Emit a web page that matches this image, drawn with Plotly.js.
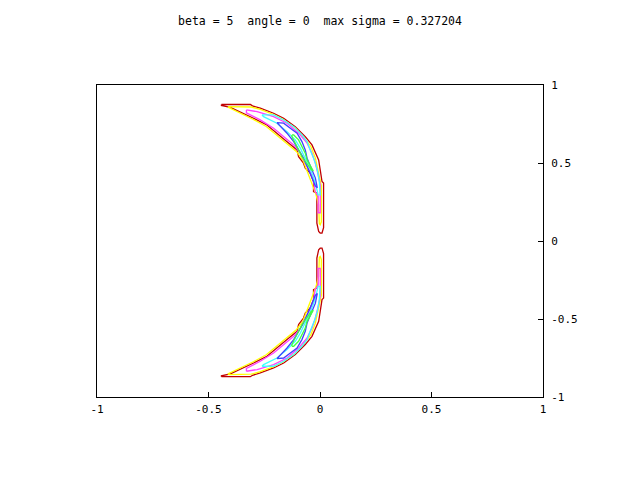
<!DOCTYPE html>
<html>
<head>
<meta charset="utf-8">
<script src="https://cdn.plot.ly/plotly-3.0.1.min.js"></script>
<style>html,body{margin:0;padding:0;background:#fff;}#chart{width:640px;height:480px;}</style>
</head>
<body>
<div id="chart"></div>
<script>
// Contour levels (outermost to innermost)
const levelColors = ['#c00000', '#ffff00', '#ff40ff', '#40ffff', '#4040ff', '#40ff40'];

// Upper crescent contour loops
const redUpperX = [-0.442,-0.312,-0.303,-0.268,-0.208,-0.163,-0.111,-0.066,-0.036,-0.014,-0.006,0.001,0.009,0.016,0.016,0.009,0.001,-0.006,-0.014,-0.014,-0.029,-0.029,-0.036,-0.044,-0.066,-0.074,-0.096,-0.103,-0.148,-0.193,-0.238,-0.298,-0.357,-0.402,-0.442,-0.442];
const redUpperY = [0.875,0.875,0.866,0.851,0.819,0.787,0.733,0.669,0.616,0.541,0.520,0.456,0.381,0.371,0.085,0.051,0.051,0.061,0.115,0.307,0.317,0.381,0.413,0.435,0.467,0.499,0.541,0.584,0.637,0.691,0.744,0.787,0.829,0.856,0.869,0.875];

const yellowUpperX = [-0.411,-0.308,-0.268,-0.209,-0.165,-0.111,-0.071,-0.041,-0.021,-0.012,-0.001,0.006,0.006,0.001,-0.003,-0.006,-0.019,-0.035,-0.048,-0.077,-0.106,-0.151,-0.196,-0.241,-0.299,-0.357,-0.411,-0.411];
const yellowUpperY = [0.862,0.859,0.843,0.811,0.779,0.725,0.661,0.606,0.533,0.469,0.392,0.353,0.123,0.104,0.110,0.232,0.302,0.360,0.417,0.520,0.574,0.629,0.683,0.734,0.779,0.821,0.856,0.862];

const magentaUpperX = [-0.330,-0.282,-0.208,-0.148,-0.096,-0.058,-0.036,-0.021,-0.008,0.001,0.001,-0.008,-0.008,-0.021,-0.030,-0.044,-0.066,-0.088,-0.118,-0.163,-0.208,-0.268,-0.330,-0.330];
const magentaUpperY = [0.840,0.829,0.797,0.755,0.691,0.627,0.563,0.501,0.424,0.360,0.181,0.181,0.289,0.315,0.392,0.443,0.501,0.563,0.616,0.669,0.723,0.776,0.821,0.840];

const cyanUpperX = [-0.260,-0.208,-0.163,-0.118,-0.081,-0.058,-0.044,-0.026,-0.012,-0.003,0.001,-0.008,-0.017,-0.030,-0.048,-0.066,-0.088,-0.111,-0.148,-0.193,-0.253,-0.260];
const cyanUpperY = [0.808,0.808,0.776,0.733,0.680,0.637,0.584,0.520,0.456,0.379,0.296,0.296,0.347,0.411,0.475,0.533,0.595,0.648,0.701,0.755,0.797,0.808];

const blueUpperX = [-0.193,-0.163,-0.133,-0.103,-0.081,-0.066,-0.058,-0.039,-0.021,-0.012,-0.021,-0.039,-0.057,-0.074,-0.096,-0.118,-0.148,-0.186,-0.193];
const blueUpperY = [0.759,0.755,0.723,0.691,0.637,0.584,0.531,0.469,0.405,0.341,0.353,0.417,0.475,0.531,0.584,0.637,0.691,0.744,0.759];

const greenUpperX = [-0.126,-0.118,-0.096,-0.081,-0.066,-0.058,-0.044,-0.030,-0.039,-0.062,-0.081,-0.096,-0.111,-0.126,-0.126];
const greenUpperY = [0.680,0.680,0.648,0.605,0.563,0.520,0.488,0.449,0.456,0.501,0.541,0.584,0.627,0.669,0.680];

// Lower crescent contour loops
const redLowerX = [-0.442,-0.312,-0.303,-0.268,-0.208,-0.163,-0.111,-0.066,-0.036,-0.014,-0.006,0.001,0.009,0.016,0.016,0.009,0.001,-0.006,-0.014,-0.014,-0.029,-0.029,-0.036,-0.044,-0.066,-0.074,-0.096,-0.103,-0.148,-0.193,-0.238,-0.298,-0.357,-0.402,-0.442,-0.442];
const redLowerY = [-0.870,-0.870,-0.861,-0.846,-0.814,-0.782,-0.728,-0.664,-0.611,-0.536,-0.515,-0.451,-0.376,-0.366,-0.080,-0.046,-0.046,-0.056,-0.110,-0.302,-0.312,-0.376,-0.408,-0.430,-0.462,-0.494,-0.536,-0.579,-0.632,-0.686,-0.739,-0.782,-0.824,-0.851,-0.864,-0.870];

const yellowLowerX = [-0.411,-0.308,-0.268,-0.209,-0.165,-0.111,-0.071,-0.041,-0.021,-0.012,-0.001,0.006,0.006,0.001,-0.003,-0.006,-0.019,-0.035,-0.048,-0.077,-0.106,-0.151,-0.196,-0.241,-0.299,-0.357,-0.411,-0.411];
const yellowLowerY = [-0.857,-0.854,-0.838,-0.806,-0.774,-0.720,-0.656,-0.601,-0.528,-0.464,-0.387,-0.348,-0.118,-0.099,-0.105,-0.227,-0.297,-0.355,-0.412,-0.515,-0.569,-0.624,-0.678,-0.729,-0.774,-0.816,-0.851,-0.857];

const magentaLowerX = [-0.330,-0.282,-0.208,-0.148,-0.096,-0.058,-0.036,-0.021,-0.008,0.001,0.001,-0.008,-0.008,-0.021,-0.030,-0.044,-0.066,-0.088,-0.118,-0.163,-0.208,-0.268,-0.330,-0.330];
const magentaLowerY = [-0.835,-0.824,-0.792,-0.750,-0.686,-0.622,-0.558,-0.496,-0.419,-0.355,-0.176,-0.176,-0.284,-0.310,-0.387,-0.438,-0.496,-0.558,-0.611,-0.664,-0.718,-0.771,-0.816,-0.835];

const cyanLowerX = [-0.260,-0.208,-0.163,-0.118,-0.081,-0.058,-0.044,-0.026,-0.012,-0.003,0.001,-0.008,-0.017,-0.030,-0.048,-0.066,-0.088,-0.111,-0.148,-0.193,-0.253,-0.260];
const cyanLowerY = [-0.803,-0.803,-0.771,-0.728,-0.675,-0.632,-0.579,-0.515,-0.451,-0.374,-0.291,-0.291,-0.342,-0.406,-0.470,-0.528,-0.590,-0.643,-0.696,-0.750,-0.792,-0.803];

const blueLowerX = [-0.193,-0.163,-0.133,-0.103,-0.081,-0.066,-0.058,-0.039,-0.021,-0.012,-0.021,-0.039,-0.057,-0.074,-0.096,-0.118,-0.148,-0.186,-0.193];
const blueLowerY = [-0.754,-0.750,-0.718,-0.686,-0.632,-0.579,-0.526,-0.464,-0.400,-0.336,-0.348,-0.412,-0.470,-0.526,-0.579,-0.632,-0.686,-0.739,-0.754];

const greenLowerX = [-0.126,-0.118,-0.096,-0.081,-0.066,-0.058,-0.044,-0.030,-0.039,-0.062,-0.081,-0.096,-0.111,-0.126,-0.126];
const greenLowerY = [-0.675,-0.675,-0.643,-0.600,-0.558,-0.515,-0.483,-0.444,-0.451,-0.496,-0.536,-0.579,-0.622,-0.664,-0.675];

const tickValues = [-1, -0.5, 0, 0.5, 1];
const tickLabels = ['-1', '-0.5', '0', '0.5', '1'];
const titleText = 'beta = 5  angle = 0  max sigma = 0.327204';

const loops = [
  [redUpperX, redUpperY, 0], [redLowerX, redLowerY, 0],
  [yellowUpperX, yellowUpperY, 1], [yellowLowerX, yellowLowerY, 1],
  [magentaUpperX, magentaUpperY, 2], [magentaLowerX, magentaLowerY, 2],
  [cyanUpperX, cyanUpperY, 3], [cyanLowerX, cyanLowerY, 3],
  [blueUpperX, blueUpperY, 4], [blueLowerX, blueLowerY, 4],
  [greenUpperX, greenUpperY, 5], [greenLowerX, greenLowerY, 5]
];

const traces = loops.map(function (l) {
  return {
    type: 'scatter', mode: 'lines', x: l[0], y: l[1],
    line: {color: levelColors[l[2]], width: 1.3},
    showlegend: false, hoverinfo: 'skip'
  };
});

const mono = {family: 'DejaVu Sans Mono, monospace', size: 11, color: '#000'};

const layout = {
  width: 640, height: 480,
  paper_bgcolor: '#fff', plot_bgcolor: '#fff',
  margin: {l: 96.5, r: 97, t: 85, b: 83, pad: 0},
  showlegend: false,
  title: {
    text: titleText.replace(/ /g, '\u00A0'),
    font: {family: 'DejaVu Sans Mono, monospace', size: 11.5, color: '#000'},
    x: 0.5, xanchor: 'center', y: 1 - 21 / 480, yanchor: 'middle', yref: 'container'
  },
  xaxis: {
    range: [-1, 1], tickmode: 'array', tickvals: tickValues, ticktext: tickLabels,
    ticks: 'inside', ticklen: 5, tickcolor: '#000', tickwidth: 1,
    showline: true, linecolor: '#000', linewidth: 1, mirror: true,
    showgrid: false, zeroline: false, tickfont: mono, fixedrange: true,
    ticklabelstandoff: 2
  },
  yaxis: {
    range: [-1, 1], side: 'right', tickmode: 'array', tickvals: tickValues, ticktext: tickLabels,
    ticks: 'inside', ticklen: 5, tickcolor: '#000', tickwidth: 1,
    showline: true, linecolor: '#000', linewidth: 1, mirror: true,
    showgrid: false, zeroline: false, tickfont: mono, fixedrange: true,
    ticklabelstandoff: 5
  }
};

Plotly.newPlot('chart', traces, layout, {staticPlot: true, displayModeBar: false});
</script>
</body>
</html>
